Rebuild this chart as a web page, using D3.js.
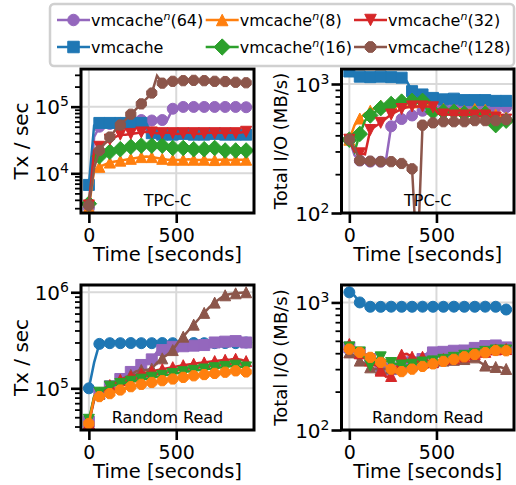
<!DOCTYPE html>
<html><head><meta charset="utf-8">
<script src="https://cdn.jsdelivr.net/npm/d3@7"></script>
<style>body{margin:0;background:#fff} svg{display:block} text{font-family:"DejaVu Sans",sans-serif;fill:#000}</style>
</head><body><svg id="c" width="516" height="485"></svg>
<script>
// ---------------- data ----------------
const times = [0,30,60,90,120,150,180,210,240,270,300,330,360,390,420,450,480,510,540,570,600,630,660,690,720,750,780,810,840,870,900];
const xTickValues = [0, 500];

const seriesKeys = ["64","vm","8","16","32","128"];
const seriesLabels = {"64":["vmcache","n","(64)"],"vm":["vmcache","",""],"8":["vmcache","n","(8)"],"16":["vmcache","n","(16)"],"32":["vmcache","n","(32)"],"128":["vmcache","n","(128)"]};
const seriesColors = {"64":"#9467bd","vm":"#1f77b4","8":"#ff7f0e","16":"#2ca02c","32":"#d62728","128":"#8c564b"};

// TPC-C, Tx / sec
const tpccTx64  = [3000,35000,50000,53000,55000,56000,57000,58000,60000,62000,63000,63000,62000,63000,63000,64000,93000,97000,99000,100000,99000,100000,99000,98000,99000,100000,99000,98000,99000,98000,98000];
const tpccTxVm  = [6700,52000,57000,56000,57000,56000,57000,56000,57000,56000,57000,55000,40000,39000,38000,39000,38000,38000,39000,38000,38000,39000,38000,38000,39000,38000,38000,38000,38000,37000,38000];
const tpccTx8   = [3100,11000,12500,13500,14500,15000,15500,16000,16500,17000,17500,17800,17500,17000,16500,16000,16000,15800,16000,16200,16000,15800,16000,16000,15800,16000,16000,15800,16000,16000,16000];
const tpccTx16  = [3500,17000,18000,20000,21000,22000,23000,24000,25000,26000,26000,27000,26000,25000,26000,25000,24000,25000,24000,24000,23000,24000,23000,23000,24000,23000,22000,23000,22000,22000,22000];
const tpccTx32  = [3300,22000,25000,28000,32000,35000,38000,38000,39000,40000,41000,42000,41000,40000,40000,41000,40000,39000,40000,41000,40000,39000,40000,41000,40000,41000,40000,41000,40000,41000,42000];
const tpccTx128 = [3300,12000,22000,28000,35000,44000,53000,64000,77000,92000,110000,132000,160000,290000,225000,235000,240000,245000,245000,250000,248000,245000,245000,243000,240000,240000,238000,235000,232000,230000,228000];

// TPC-C, Total I/O (MB/s)
const tpccIo64  = [370,280,255,255,250,250,250,255,470,520,535,555,570,590,620,630,640,650,650,655,650,655,650,660,655,660,655,660,660,655,660];
const tpccIoVm  = [1250,1150,1140,1130,1130,1140,1140,1140,1130,1130,1120,1050,880,850,830,800,780,770,760,760,770,760,750,760,750,740,750,740,740,730,740];
const tpccIo8   = [370,480,540,590,620,660,680,700,710,720,730,730,720,725,730,700,640,630,640,620,630,640,620,630,640,620,630,600,580,560,550];
const tpccIo16  = [370,300,410,520,570,610,650,690,700,710,730,740,740,730,740,620,610,600,610,600,610,600,590,600,590,580,590,560,480,500,520];
const tpccIo32  = [370,300,290,285,440,470,500,540,580,610,640,660,670,670,670,670,660,590,580,580,570,580,570,580,570,560,570,560,550,540,530];
const tpccIo128 = [370,320,255,250,252,250,250,248,250,245,242,238,220,40,480,495,500,505,510,505,510,515,510,515,520,515,520,525,520,525,530];

// Random Read, Tx / sec
const rrTx64  = [45000,80000,88000,95000,105000,115000,125000,135000,148000,165000,175000,190000,200000,240000,250000,255000,270000,272000,274000,276000,278000,280000,282000,285000,300000,305000,306000,308000,310000,305000,300000];
const rrTxVm  = [100000,185000,290000,295000,295000,296000,295000,295000,296000,295000,295000,296000,295000,295000,296000,295000,295000,296000,295000,295000,296000,295000,295000,296000,295000,295000,296000,295000,295000,296000,300000];
const rrTx8   = [43000,80000,82000,84000,88000,92000,96000,100000,104000,107000,110000,112000,115000,118000,120000,123000,125000,128000,130000,132000,135000,137000,139000,141000,143000,145000,147000,149000,152000,150000,148000];
const rrTx16  = [47000,82000,90000,100000,104000,108000,111000,114000,117000,120000,123000,126000,129000,132000,135000,138000,141000,144000,147000,150000,152000,155000,157000,160000,162000,165000,167000,170000,172000,168000,165000];
const rrTx32  = [43000,80000,90000,100000,108000,115000,122000,128000,133000,138000,142000,146000,150000,154000,158000,162000,166000,170000,174000,177000,180000,183000,186000,189000,192000,195000,198000,200000,203000,198000,192000];
const rrTx128 = [43000,75000,88000,95000,103000,112000,122000,130000,138000,150000,155000,155000,160000,185000,205000,225000,250000,300000,345000,400000,460000,530000,610000,700000,780000,860000,930000,960000,975000,990000,1000000];

// Random Read, Total I/O (MB/s)
const rrIo64  = [444,420,400,380,360,340,320,310,300,305,315,330,340,350,360,406,406,410,410,415,418,418,420,425,440,450,455,458,460,450,444];
const rrIoVm  = [1200,1130,1000,950,925,925,924,925,926,925,925,924,925,925,926,925,925,924,925,925,926,925,925,924,925,925,926,925,925,910,880];
const rrIo8   = [431,420,406,390,371,355,339,320,300,283,287,291,300,310,315,319,330,339,345,352,358,366,375,384,391,398,404,410,420,422,418];
const rrIo16  = [444,420,406,370,320,360,371,349,335,330,320,319,325,330,338,342,345,350,355,362,368,375,382,390,395,402,410,415,420,425,420];
const rrIo32  = [472,440,400,380,350,330,292,262,265,300,390,395,375,360,375,350,340,350,360,355,365,370,378,385,395,400,410,418,428,430,431];
const rrIo128 = [406,380,350,330,310,301,300,302,305,308,312,318,325,330,335,340,345,350,350,352,355,358,360,362,371,340,320,310,312,310,301];

// ---------------- layout / style ----------------
const svg = d3.select("#c");
const FONT = '"DejaVu Sans", sans-serif';
const xDomain = [-45, 945];
const cols = [[81, 254], [341.5, 514]];
const rows = [[69, 213], [285, 430]];
const MS = 11;

const topMarkers = {"64":"o","vm":"s","8":"^","16":"D","32":"v","128":"8"};
const botMarkers = {"vm":"o","64":"s","128":"^","32":"^","16":"v","8":"8"};

const panels = [
  {col:0,row:0,dom:[2540,367000],ylabel:"Tx / sec",ylx:28,ylfs:20,annot:"TPC-C",markers:topMarkers,
   order:["64","vm","8","16","32","128"],
   data:{"64":tpccTx64,"vm":tpccTxVm,"8":tpccTx8,"16":tpccTx16,"32":tpccTx32,"128":tpccTx128}},
  {col:1,row:0,dom:[100,1307],ylabel:"Total I/O (MB/s)",ylx:287,ylfs:18,annot:"TPC-C",markers:topMarkers,
   order:["64","vm","8","16","32","128"],
   data:{"64":tpccIo64,"vm":tpccIoVm,"8":tpccIo8,"16":tpccIo16,"32":tpccIo32,"128":tpccIo128}},
  {col:0,row:1,dom:[36800,1190000],ylabel:"Tx / sec",ylx:28,ylfs:20,annot:"Random Read",markers:botMarkers,
   order:["vm","64","128","32","16","8"],
   data:{"64":rrTx64,"vm":rrTxVm,"8":rrTx8,"16":rrTx16,"32":rrTx32,"128":rrTx128}},
  {col:1,row:1,dom:[100,1370],ylabel:"Total I/O (MB/s)",ylx:287,ylfs:18,annot:"Random Read",markers:botMarkers,
   order:["vm","64","128","32","16","8"],
   data:{"64":rrIo64,"vm":rrIoVm,"8":rrIo8,"16":rrIo16,"32":rrIo32,"128":rrIo128}}
];

function markerPath(type, s){
  const h = s/2;
  switch(type){
    case "o": return d3.symbol(d3.symbolCircle, Math.PI*h*h)();
    case "s": return `M${-h},${-h}H${h}V${h}H${-h}Z`;
    case "^": return `M0,${-h}L${h},${h}L${-h},${h}Z`;
    case "v": return `M0,${h}L${h},${-h}L${-h},${-h}Z`;
    case "D": { const d = h*1.414; return `M0,${-d}L${d},0L0,${d}L${-d},0Z`; }
    case "8": {
      let p = "";
      for(let k=0;k<8;k++){ const a = (22.5 + 45*k)*Math.PI/180; p += (k?"L":"M") + (h*Math.cos(a)).toFixed(2) + "," + (h*Math.sin(a)).toFixed(2); }
      return p + "Z";
    }
  }
}

const defs = svg.append("defs");

panels.forEach((p, pi) => {
  const xr = cols[p.col], yr = rows[p.row];
  const x = d3.scaleLinear().domain(xDomain).range(xr);
  const y = d3.scaleLog().domain(p.dom).range([yr[1], yr[0]]);
  const all = y.ticks();
  const majors = all.filter(v => Math.abs(Math.log10(v) - Math.round(Math.log10(v))) < 1e-9);
  const minors = all.filter(v => !majors.includes(v));
  const g = svg.append("g");

  defs.append("clipPath").attr("id","clip"+pi).append("rect")
    .attr("x", xr[0]).attr("y", yr[0]).attr("width", xr[1]-xr[0]).attr("height", yr[1]-yr[0]);

  // grid
  g.append("g").selectAll("line.gx").data(xTickValues).join("line")
    .attr("x1", d=>x(d)).attr("x2", d=>x(d)).attr("y1", yr[0]).attr("y2", yr[1])
    .attr("stroke","#d9d9d9").attr("stroke-width",2);
  g.append("g").selectAll("line.gy").data(majors).join("line")
    .attr("x1", xr[0]).attr("x2", xr[1]).attr("y1", d=>y(d)).attr("y2", d=>y(d))
    .attr("stroke","#d9d9d9").attr("stroke-width",2);

  // series
  const plot = g.append("g").attr("clip-path", `url(#clip${pi})`);
  const line = d3.line().x((d,i)=>x(times[i])).y(d=>y(d));
  p.order.forEach(k => {
    const vals = p.data[k];
    const col = seriesColors[k];
    const sg = plot.append("g");
    sg.append("path").attr("d", line(vals)).attr("fill","none").attr("stroke",col).attr("stroke-width",2.5);
    const pts = vals.map((v,i)=>({t:times[i], v})).filter((d,i)=>i%2===0);
    sg.selectAll("path.m").data(pts).join("path").attr("class","m")
      .attr("d", markerPath(p.markers[k], MS))
      .attr("transform", d=>`translate(${x(d.t)},${y(d.v)})`)
      .attr("fill", col).attr("stroke", col).attr("stroke-width", 1);
  });

  // annotation
  g.append("text").attr("x", (xr[0]+xr[1])/2).attr("y", yr[1]-7)
    .attr("text-anchor","middle").attr("font-size",16).text(p.annot);

  // spines
  g.append("rect").attr("x", xr[0]).attr("y", yr[0]).attr("width", xr[1]-xr[0]).attr("height", yr[1]-yr[0])
    .attr("fill","none").attr("stroke","#000").attr("stroke-width",3);

  // x axis
  const xa = g.append("g").attr("transform", `translate(0,${yr[1]})`)
    .call(d3.axisBottom(x).tickValues(xTickValues).tickSize(10).tickFormat(d3.format("d")));
  xa.select(".domain").remove();
  xa.selectAll(".tick line").attr("stroke","#000").attr("stroke-width",2.6);
  xa.selectAll(".tick text").attr("y", 29).attr("dy", null).attr("font-size", 19).attr("font-family", FONT).attr("fill","#000");
  g.append("text").attr("x", (xr[0]+xr[1])/2).attr("y", yr[1]+47.5).attr("text-anchor","middle")
    .attr("font-size", 19.5).text("Time [seconds]");

  // y axis minor
  const ym = g.append("g").attr("transform", `translate(${xr[0]},0)`)
    .call(d3.axisLeft(y).tickValues(minors).tickSize(6).tickFormat(""));
  ym.select(".domain").remove();
  ym.selectAll(".tick line").attr("stroke","#000").attr("stroke-width",1.8);
  // y axis major
  const ya = g.append("g").attr("transform", `translate(${xr[0]},0)`)
    .call(d3.axisLeft(y).tickValues(majors).tickSize(10).tickFormat(""));
  ya.select(".domain").remove();
  ya.selectAll(".tick line").attr("stroke","#000").attr("stroke-width",2.6);
  ya.selectAll(".tick").each(function(d){
    const t = d3.select(this).select("text").attr("x", -12).attr("y", 7.3).attr("dy", null)
      .attr("text-anchor","end").attr("font-size", 20).attr("font-family", FONT).attr("fill","#000");
    t.append("tspan").text("10");
    t.append("tspan").attr("dy", -8).attr("font-size", 14).text(String(Math.round(Math.log10(d))));
  });

  // y label
  g.append("text").attr("transform", `translate(${p.ylx},${(yr[0]+yr[1])/2}) rotate(-90)`)
    .attr("text-anchor","middle").attr("font-size", p.ylfs).text(p.ylabel);
});

// ---------------- legend ----------------
const lg = svg.append("g");
lg.append("rect").attr("x",50).attr("y",4).attr("width",464).attr("height",62).attr("rx",4)
  .attr("fill","#fff").attr("fill-opacity",0.9).attr("stroke","#d0d0d0").attr("stroke-width",2.5);
const legCols = [57, 205.7, 354];
const legRows = [20, 47];
seriesKeys.forEach((k, i) => {
  const cx = legCols[Math.floor(i/2)], cy = legRows[i%2];
  const col = seriesColors[k];
  lg.append("line").attr("x1",cx).attr("x2",cx+33).attr("y1",cy).attr("y2",cy).attr("stroke",col).attr("stroke-width",2.5);
  lg.append("path").attr("d", markerPath(topMarkers[k], 11.5)).attr("transform",`translate(${cx+16.5},${cy})`)
    .attr("fill",col).attr("stroke",col).attr("stroke-width",1);
  const lab = seriesLabels[k];
  const t = lg.append("text").attr("x", cx+34).attr("y", cy+6).attr("font-size",16);
  t.append("tspan").text(lab[0]);
  if(lab[1]){
    t.append("tspan").attr("dy",-6).attr("font-size",11).attr("font-style","italic").text(lab[1]);
    t.append("tspan").attr("dy",6).attr("font-size",16).text(lab[2]);
  }
});
</script></body></html>
